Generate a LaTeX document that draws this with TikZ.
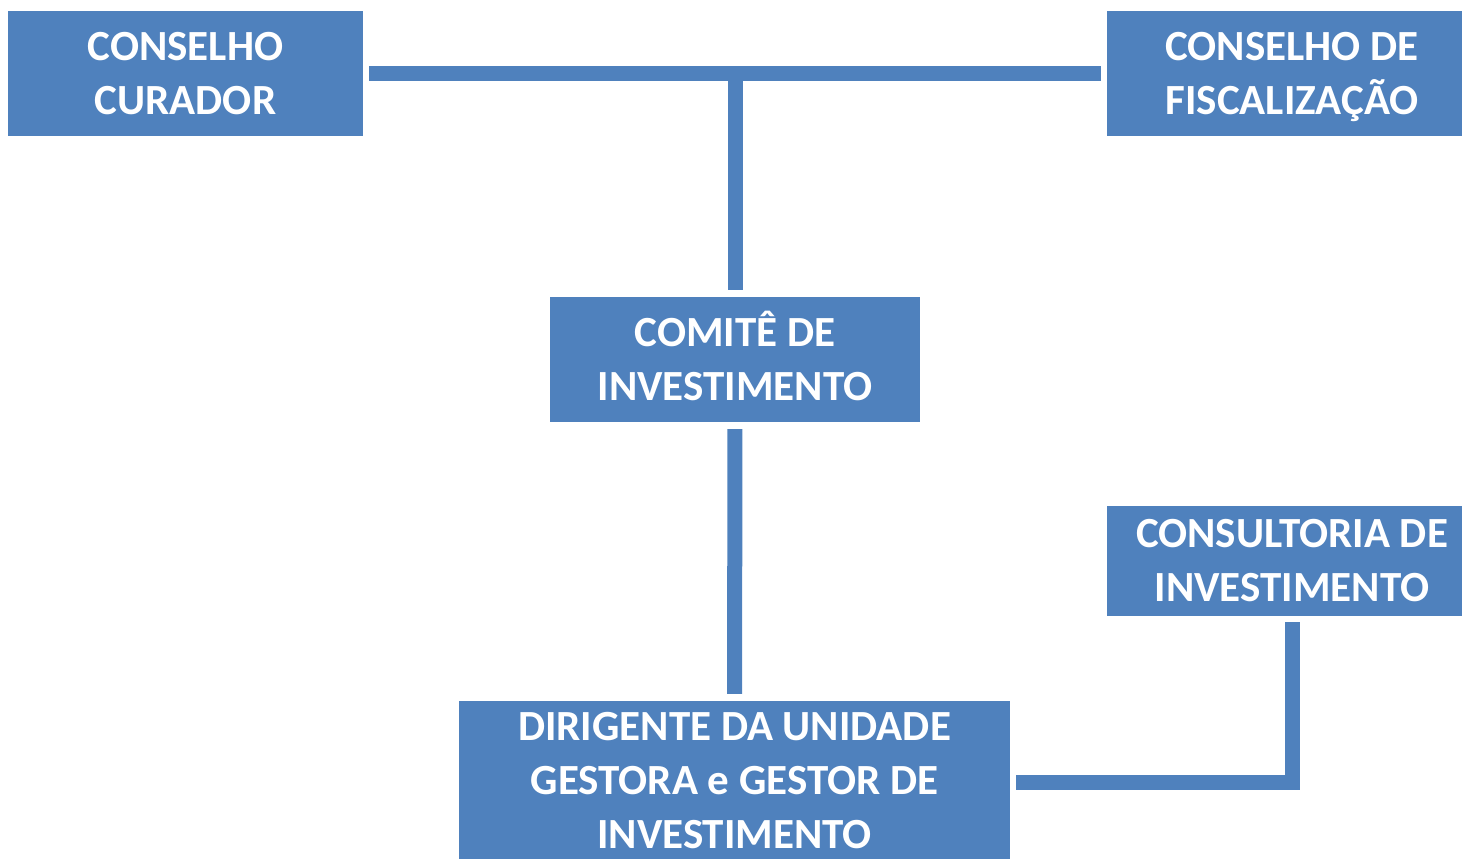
\documentclass[tikz,border=0pt]{standalone}
\usepackage{fontspec}
\setmainfont{Carlito}
\definecolor{boxblue}{HTML}{4F81BD}
\begin{document}
\begin{tikzpicture}[x=1pt,y=-1pt,
  orgbox/.style={fill=boxblue, draw=none, inner sep=0pt, text=white, align=center,
    font=\bfseries\fontsize{43}{54}\selectfont},
  conn/.style={draw=boxblue, line width=15pt, line join=miter}]
\useasboundingbox (0,0) rectangle (1462,859);
\clip (0,0) rectangle (1462,859);
\node[orgbox, minimum width=355pt, minimum height=125pt] (cc) at (185.5,73.5) {CONSELHO\\CURADOR};
\node[orgbox, minimum width=370pt, minimum height=125pt] (cf) at (1292,73.5) {CONSELHO DE\\\smash{FISCALIZAÇÃO}};
\node[orgbox, minimum width=370pt, minimum height=125pt] (ci) at (735,359.5) {\smash{COMITÊ DE}\vphantom{C}\\INVESTIMENTO};
\node[orgbox, minimum width=370pt, minimum height=110pt] (co) at (1292,561) {CONSULTORIA DE\\INVESTIMENTO};
\node[orgbox, minimum width=551pt, minimum height=160pt] (dg) at (734.5,781) {DIRIGENTE DA UNIDADE\\GESTORA e GESTOR DE\\INVESTIMENTO};
\coordinate (tj) at (735,73.5);
\draw[conn, shorten <=6pt, shorten >=6pt] (cc.east) -- (cf.west);
\draw[conn, shorten >=7pt] (tj) -- (ci.north);
\draw[conn, shorten <=7pt, shorten >=7pt] (ci.south) -- (dg.north);
\draw[conn, shorten <=6pt, shorten >=6pt] (co.south) |- ([yshift=-1pt]dg.east);
\end{tikzpicture}
\end{document}
